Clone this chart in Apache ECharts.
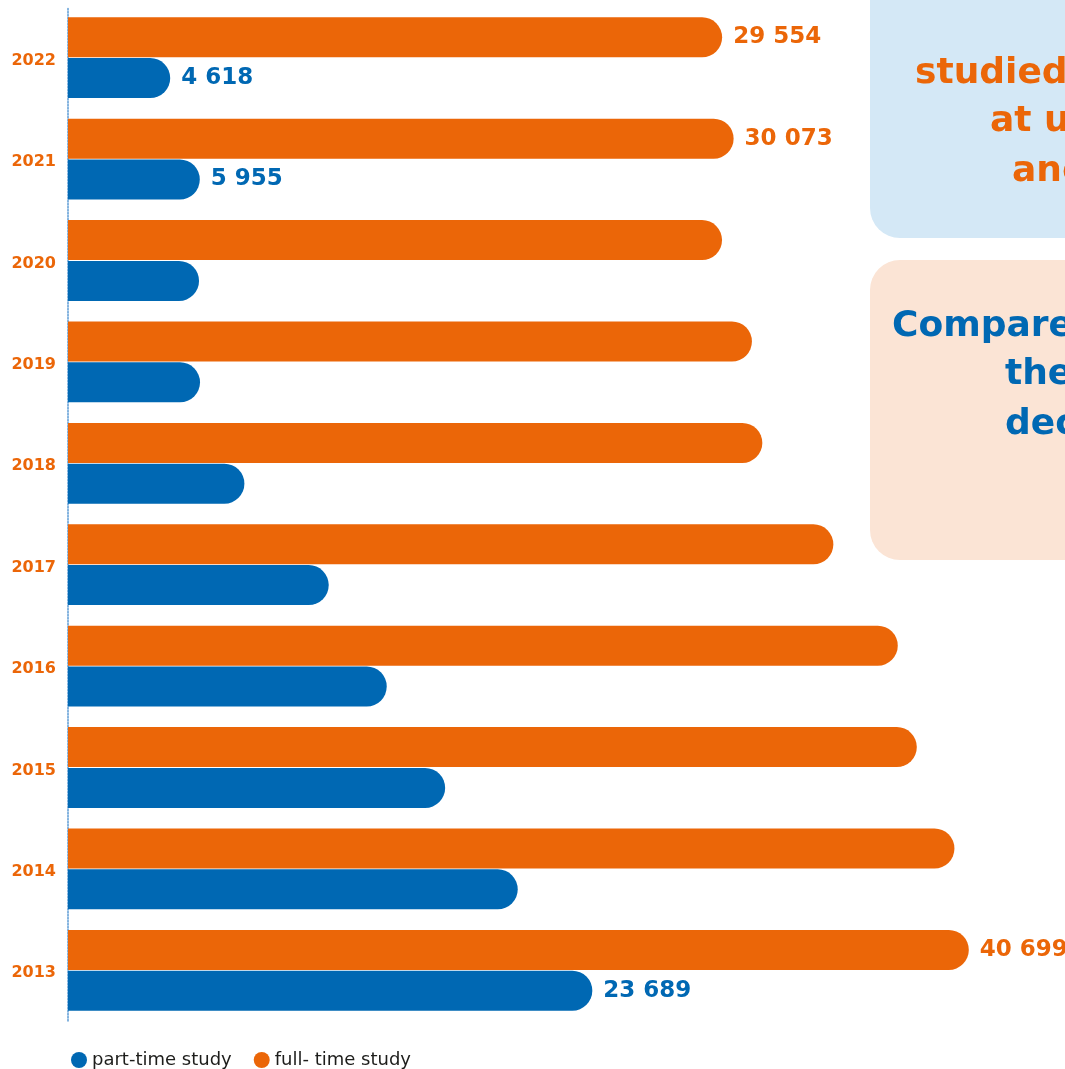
<!DOCTYPE html>
<html>
<head>
<meta charset="utf-8">
<script src="https://cdn.jsdelivr.net/npm/echarts@6/dist/echarts.min.js"></script>
<style>
html,body{margin:0;padding:0;background:#fff;}
#chart{width:1065px;height:1069px;}
</style>
</head>
<body>
<div id="chart"></div>
<script>
// Data (bottom to top)
const years = ['2013','2014','2015','2016','2017','2018','2019','2020','2021','2022'];
const fullTime = [40699, 40050, 38350, 37490, 34580, 31370, 30900, 29550, 30073, 29554];
const partTime = [23689, 20320, 17040, 14400, 11780, 7970, 5965, 5920, 5955, 4618];
const labeledYears = ['2013','2021','2022'];
const seriesNames = ['part-time study', 'full- time study'];
const boxText1 = ['studied', 'at u', 'and'];
const boxText2 = ['Compare', 'the', 'dec'];

const ORANGE = '#EB6608';
const BLUE = '#0068B3';
const FONT = 'DejaVu Sans';

function fmt(v){ return String(v).replace(/\B(?=(\d{3})+(?!\d))/g, ' '); }

const chart = echarts.init(document.getElementById('chart'));

const graphics = [
  {type:'rect', shape:{x:870, y:-40, width:300, height:278, r:30}, style:{fill:'#D4E8F6'}, z:-10},
  {type:'rect', shape:{x:870, y:260, width:300, height:300, r:30}, style:{fill:'#FBE4D5'}, z:-10}
];
const t1x = [915, 990, 1012], t1y = [92, 140, 190];
boxText1.forEach((t,i)=>graphics.push({type:'text', x:t1x[i], y:t1y[i], style:{text:t, fill:ORANGE, font:'bold 36px "'+FONT+'"', textAlign:'left', textVerticalAlign:'bottom'}}));
const t2x = [892, 1005, 1005], t2y = [345, 393, 443];
boxText2.forEach((t,i)=>graphics.push({type:'text', x:t2x[i], y:t2y[i], style:{text:t, fill:BLUE, font:'bold 36px "'+FONT+'"', textAlign:'left', textVerticalAlign:'bottom'}}));

function labelFor(color){
  return {
    show:true, position:'right', distance:11, color:color,
    fontFamily:FONT, fontWeight:'bold', fontSize:23,
    formatter:(p)=> labeledYears.includes(p.name) ? fmt(p.value) : ''
  };
}

chart.setOption({
  animation:false,
  backgroundColor:'#fff',
  graphic: graphics,
  legend:{
    data: seriesNames,
    left: 66, top: 1046,
    icon:'circle', itemWidth:16, itemHeight:16, itemGap:22,
    textStyle:{fontFamily:FONT, fontSize:18, color:'#1d1d1b'}
  },
  grid:{left:68, top:7, width:996, height:1014, containLabel:false},
  xAxis:{type:'value', min:0, max:45000, show:false},
  yAxis:{
    type:'category', data: years,
    axisLine:{show:true, lineStyle:{type:'dotted', color:'#5B9BD5', width:1.5}},
    axisTick:{show:false},
    axisLabel:{color:ORANGE, fontFamily:FONT, fontWeight:'bold', fontSize:16, margin:12, lineHeight:22, verticalAlign:'top', padding:[-8,0,0,0]}
  },
  series:[
    {name: seriesNames[1], type:'bar', data: fullTime, barWidth:40, barGap:'2%',
     itemStyle:{color:ORANGE, borderRadius:[0,20,20,0]}, label: labelFor(ORANGE)},
    {name: seriesNames[0], type:'bar', data: partTime, barWidth:40, barGap:'2%',
     itemStyle:{color:BLUE, borderRadius:[0,20,20,0]}, label: labelFor(BLUE)}
  ]
});
</script>
</body>
</html>
